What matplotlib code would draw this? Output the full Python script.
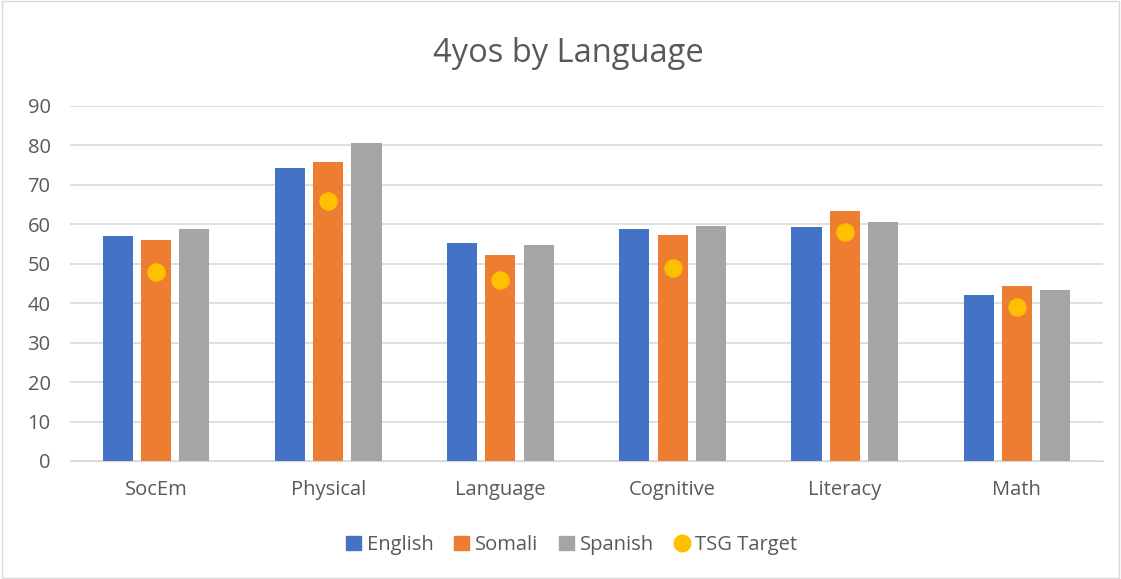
import numpy as np
from matplotlib import pyplot as plt
from matplotlib.lines import Line2D
from matplotlib.patches import Patch

categories = ['SocEm', 'Physical', 'Language', 'Cognitive', 'Literacy', 'Math']
english = [57.0, 74.4, 55.3, 58.7, 59.2, 42.0]
somali = [56.0, 75.8, 52.3, 57.3, 63.5, 44.3]
spanish = [58.7, 80.5, 54.8, 59.7, 60.6, 43.4]
tsg_target = [48, 66, 46, 49, 58, 39]

plt.rcParams['font.family'] = ['Open Sans', 'DejaVu Sans']

fig = plt.figure(dpi=100, figsize=(11.21, 5.79))
ax = fig.add_axes([70 / 1121, 1 - 461 / 579, 1033 / 1121, 355 / 579])

x = np.arange(len(categories))
w = 0.175
off = 0.222
ax.bar(x - off, english, w, color='#4472c4', zorder=2)
ax.bar(x, somali, w, color='#ed7d31', zorder=2)
ax.bar(x + off, spanish, w, color='#a5a5a5', zorder=2)
ax.scatter(x, tsg_target, s=150, color='#ffc000', zorder=3)

ax.set_xlim(-0.5, len(categories) - 0.5)
ax.set_ylim(0, 90)
ax.set_yticks(range(0, 91, 10))
ax.set_xticks(x)
ax.set_xticklabels(categories)
ax.grid(axis='y', color='#d9d9d9', linewidth=1.2, zorder=0)
for s in ['top', 'right', 'left']:
    ax.spines[s].set_visible(False)
ax.spines['bottom'].set_color('#d9d9d9')
ax.tick_params(axis='both', length=0, labelsize=14.5, colors='#595959')
ax.tick_params(axis='x', pad=14)
ax.tick_params(axis='y', pad=14)

fig.text(0.507, 1 - 53 / 579, '4yos by Language', ha='center', va='center',
         fontsize=23.5, color='#595959')

handles = [Patch(color='#4472c4', label='English'),
           Patch(color='#ed7d31', label='Somali'),
           Patch(color='#a5a5a5', label='Spanish'),
           Line2D([], [], marker='o', linestyle='', markersize=12,
                  color='#ffc000', label='TSG Target')]
fig.legend(handles=handles, loc='center', bbox_to_anchor=(0.51, 1 - 545 / 579),
           ncol=4, frameon=False, fontsize=14.5, labelcolor='#595959',
           handlelength=0.75, handleheight=0.75, handletextpad=0.3, columnspacing=1.0)

fig.patches.append(plt.Rectangle((0.002, 0.002), 0.996, 0.996, transform=fig.transFigure,
                                 fill=False, edgecolor='#d9d9d9', linewidth=1))

fig.savefig('out.png', dpi=100)
